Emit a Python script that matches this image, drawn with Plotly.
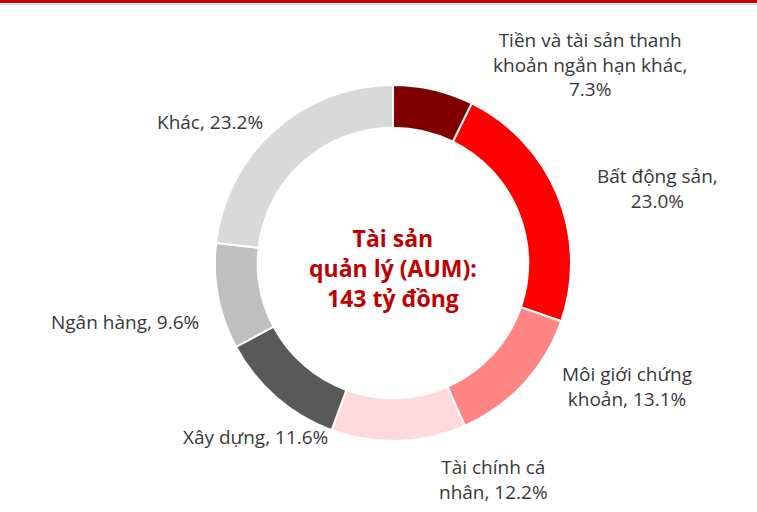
import plotly.graph_objects as go

labels = ["Tiền và tài sản thanh<br>khoản ngắn hạn khác,", "Bất động sản,", "Môi giới chứng<br>khoản,",
          "Tài chính cá<br>nhân,", "Xây dựng,", "Ngân hàng,", "Khác,"]
values = [7.3, 23.0, 13.1, 12.2, 11.6, 9.6, 23.2]
label_breaks = ["<br>", "<br>", " ", " ", " ", " ", " "]
colors = ["#800000", "#FF0000", "#FF8585", "#FFDADA", "#595959", "#BFBFBF", "#D9D9D9"]
center_text = "Tài sản<br>quản lý (AUM):<br>143 tỷ đồng"

W, H = 757, 512
cx, cy, R = 393, 263, 178

fig = go.Figure()
fig.add_trace(go.Pie(
    values=values, labels=[l.replace("<br>", " ") for l in labels],
    sort=False, direction="clockwise", rotation=0, hole=0.76,
    marker=dict(colors=colors, line=dict(color="white", width=2)),
    textinfo="none", hoverinfo="label+percent", showlegend=False,
    domain=dict(x=[(cx - R) / W, (cx + R) / W], y=[1 - (cy + R) / H, 1 - (cy - R) / H]),
))

# label positions (pixel centres of text blocks)
pos = [(590, 64), (657, 188), (627, 386), (493, 479), (255, 437), (125, 322), (210, 122)]
for lab, v, brk, (px, py) in zip(labels, values, label_breaks, pos):
    fig.add_annotation(text=f"{lab}{brk}{v:.1f}%", x=px / W, y=1 - py / H, xref="paper", yref="paper",
                       showarrow=False, xanchor="center", yanchor="middle", align="center",
                       font=dict(family="Open Sans", size=19, color="#383838"))

fig.add_annotation(text=f"<b>{center_text}</b>", x=cx / W, y=1 - 268 / H, xref="paper", yref="paper",
                   showarrow=False, xanchor="center", yanchor="middle", align="center",
                   font=dict(family="Open Sans", size=23, color="#C00000"))

fig.add_shape(type="rect", xref="paper", yref="paper", x0=0, x1=1, y0=1 - 3 / H, y1=1,
              fillcolor="#C00000", line_width=0)
fig.add_shape(type="line", xref="paper", yref="paper", x0=0, x1=1, y0=1 - 4.5 / H, y1=1 - 4.5 / H,
              line=dict(color="#D0D0D0", width=1))

fig.update_layout(width=W, height=H, margin=dict(l=0, r=0, t=0, b=0),
                  paper_bgcolor="white", plot_bgcolor="white")
fig.write_html("out.html", config={"displayModeBar": False},
               post_script="document.body.style.margin='0';document.body.style.padding='0';document.body.style.overflow='hidden';")
